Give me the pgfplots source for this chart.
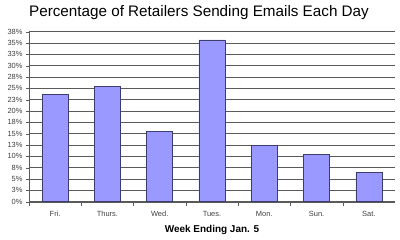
\documentclass[border=0pt]{standalone}
\usepackage{pgfplots}
\pgfplotsset{compat=1.18}
\usepackage{fontspec}
\setmainfont{Liberation Sans}
\definecolor{barfill}{RGB}{153,153,255}
\definecolor{baredge}{RGB}{60,60,110}
\definecolor{gridc}{RGB}{90,90,90}
\begin{document}
\begin{tikzpicture}[x=1bp,y=1bp]
\useasboundingbox (0,0) rectangle (400,240);
\node[font=\fontsize{15.3}{17}\selectfont] at (199,227) {Percentage of Retailers Sending Emails Each Day};
\begin{axis}[
  at={(29bp,38.3bp)}, anchor=south west,
  scale only axis, width=366bp, height=170bp,
  xmin=-0.5, xmax=6.5, ymin=0, ymax=37.5,
  axis x line*=bottom, axis y line*=left,
  axis line style={gridc, -},
  xtick={0,...,6},
  xticklabels={Fri.,Thurs.,Wed.,Tues.,Mon.,Sun.,Sat.},
  x tick label style={font=\fontsize{7.5}{8}\selectfont, text=black!75, yshift=-3bp},
  major x tick style={draw=none},
  extra x ticks={-0.5,0.5,1.5,2.5,3.5,4.5,5.5},
  extra x tick labels={},
  extra x tick style={major tick length=4bp, tick align=outside, major x tick style={draw=gridc}, grid=none},
  ytick={0,2.5,...,37.5},
  yticklabels={0\%,3\%,5\%,8\%,10\%,13\%,15\%,18\%,20\%,23\%,25\%,28\%,30\%,33\%,35\%,38\%},
  y tick label style={font=\fontsize{7.5}{8}\selectfont, text=black!75},
  ytick style={gridc},
  tick align=outside, major tick length=3bp,
  ymajorgrids, major grid style={gridc, line width=0.6pt},
  xlabel={\bfseries Week Ending Jan. 5},
  xlabel style={font=\fontsize{10}{12}\selectfont, at={(axis description cs:0.5,0)}, anchor=center, yshift=-28bp},
  /pgf/number format/assume math mode=true,
  clip=false,
]
\addplot[ybar, bar width=26bp, fill=barfill, draw=baredge, line width=0.6pt]
  coordinates {(0,23.6) (1,25.5) (2,15.5) (3,35.7) (4,12.5) (5,10.4) (6,6.4)};
\end{axis}
\end{tikzpicture}
\end{document}
